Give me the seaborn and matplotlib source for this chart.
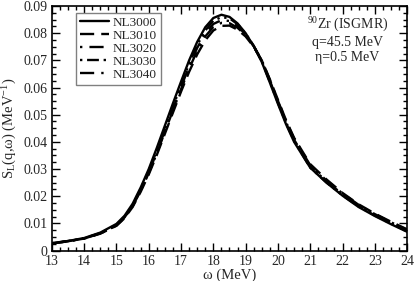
import numpy as np
import pandas as pd
import seaborn as sns
import matplotlib
matplotlib.use('Agg')
import matplotlib.pyplot as plt
from matplotlib.ticker import MultipleLocator, FuncFormatter

omega = [13, 13.5, 14, 14.5, 15, 15.25, 15.5, 15.75, 16, 16.25, 16.5, 16.75,
         17, 17.25, 17.5, 17.75, 18, 18.25, 18.5, 18.75, 19, 19.25, 19.5,
         19.75, 20, 20.25, 20.5, 21, 21.5, 22, 22.5, 23, 23.5, 24]

nl3000 = [0.0027, 0.0035, 0.0046, 0.0066, 0.0098, 0.0128, 0.0172, 0.0232,
          0.0300, 0.0378, 0.0460, 0.0542, 0.0622, 0.0700, 0.0768, 0.0822,
          0.0856, 0.0868, 0.0860, 0.0836, 0.0800, 0.0752, 0.0694, 0.0618,
          0.0540, 0.0465, 0.0400, 0.0305, 0.0250, 0.0202, 0.0160, 0.0127,
          0.0097, 0.0069]
nl3010 = [0.0026, 0.0034, 0.0044, 0.0062, 0.0091, 0.0119, 0.0160, 0.0216,
          0.0280, 0.0352, 0.0430, 0.0508, 0.0585, 0.0658, 0.0722, 0.0774,
          0.0810, 0.0827, 0.0828, 0.0813, 0.0788, 0.0750, 0.0700, 0.0630,
          0.0555, 0.0480, 0.0415, 0.0318, 0.0262, 0.0212, 0.0170, 0.0136,
          0.0106, 0.0078]
nl3020 = [0.0026, 0.0034, 0.0045, 0.0063, 0.0093, 0.0122, 0.0165, 0.0223,
          0.0288, 0.0362, 0.0442, 0.0522, 0.0601, 0.0679, 0.0746, 0.0799,
          0.0834, 0.0848, 0.0845, 0.0826, 0.0795, 0.0752, 0.0698, 0.0625,
          0.0548, 0.0473, 0.0408, 0.0310, 0.0255, 0.0207, 0.0165, 0.0132,
          0.0102, 0.0074]
nl3030 = [0.0027, 0.0035, 0.0045, 0.0064, 0.0095, 0.0124, 0.0168, 0.0227,
          0.0293, 0.0368, 0.0448, 0.0529, 0.0609, 0.0688, 0.0756, 0.0810,
          0.0846, 0.0859, 0.0855, 0.0833, 0.0799, 0.0754, 0.0697, 0.0621,
          0.0544, 0.0469, 0.0404, 0.0305, 0.0251, 0.0203, 0.0162, 0.0129,
          0.0099, 0.0071]
nl3040 = [0.0026, 0.0034, 0.0044, 0.0063, 0.0092, 0.0121, 0.0163, 0.0220,
          0.0285, 0.0358, 0.0437, 0.0516, 0.0594, 0.0669, 0.0736, 0.0788,
          0.0823, 0.0838, 0.0837, 0.0820, 0.0792, 0.0752, 0.0701, 0.0628,
          0.0551, 0.0477, 0.0412, 0.0314, 0.0258, 0.0210, 0.0168, 0.0134,
          0.0104, 0.0076]

labels = ['NL3000', 'NL3010', 'NL3020', 'NL3030', 'NL3040']
series = [nl3000, nl3010, nl3020, nl3030, nl3040]

df = pd.concat([pd.DataFrame({'omega': omega, 'S': s, 'model': lab})
                for lab, s in zip(labels, series)], ignore_index=True)

sns.set_theme(style='ticks')
plt.rcParams['font.family'] = ['Liberation Serif', 'DejaVu Serif']
plt.rcParams['mathtext.fontset'] = 'custom'
plt.rcParams['mathtext.rm'] = 'Liberation Serif'
plt.rcParams['mathtext.it'] = 'Liberation Serif'

fig = plt.figure(figsize=(4.15, 2.81), dpi=100)
ax = fig.add_axes([0.125, 0.1085, 0.856, 0.870])

dashes = ['', (6, 3), (1, 3, 6, 3), (1, 2, 5, 2, 1, 2), (6, 3, 1, 3)]
sns.lineplot(data=df, x='omega', y='S', hue='model', style='model',
             palette=['black'] * 5, dashes=dashes, linewidth=1.7, ax=ax)

ax.set_xlim(13, 24)
ax.set_ylim(0, 0.09)
ax.xaxis.set_major_locator(MultipleLocator(1))
ax.xaxis.set_minor_locator(MultipleLocator(0.25))
ax.yaxis.set_major_locator(MultipleLocator(0.01))
ax.yaxis.set_minor_locator(MultipleLocator(0.0025))
ax.yaxis.set_major_formatter(FuncFormatter(lambda v, p: '%g' % round(v, 3)))
ax.tick_params(which='both', direction='in', top=True, right=True,
               labelsize=10, color='black')
ax.tick_params(axis='x', pad=3.5)
ax.tick_params(axis='y', pad=3)
ax.tick_params(which='major', length=6, width=1)
ax.tick_params(which='minor', length=3, width=1)
for sp in ax.spines.values():
    sp.set_linewidth(1.2)
    sp.set_color('black')

ax.set_xlabel('ω (MeV)', fontsize=10.5, labelpad=0)
ax.set_ylabel(r'S$_{\mathrm{L}}$(q,ω) (MeV$^{-1}$)', fontsize=10.5, labelpad=3)

ax.text(22.15, 0.0866, '$^{90}$Zr (ISGMR)\nq=45.5 MeV\nη=0.5 MeV',
        ha='center', va='top', fontsize=10, linespacing=1.2)

leg = ax.legend(loc='upper left', bbox_to_anchor=(0.068, 0.972),
                borderaxespad=0, fontsize=9.5, handlelength=2.2,
                labelspacing=0.05, fancybox=False, framealpha=1,
                borderpad=0.3, handletextpad=0.3)
leg.get_frame().set_edgecolor('#808080')
leg.get_frame().set_linewidth(1)
for line in leg.get_lines():
    line.set_linewidth(1.7)

fig.savefig('out.png', dpi=100)
